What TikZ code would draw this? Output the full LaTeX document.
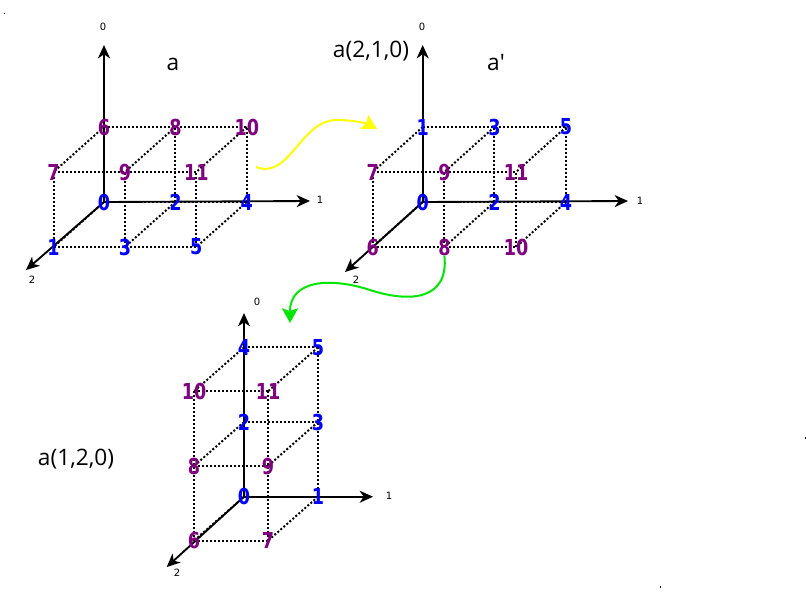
\documentclass[tikz,border=0pt]{standalone}
\usepackage{fontspec}
\setmainfont{Open Sans}
\newfontfamily\numfont{DejaVu Sans}[FakeStretch=0.8]
\newfontfamily\axisfont{DejaVu Sans}
\usetikzlibrary{arrows.meta,calc}
\definecolor{idxblue}{RGB}{0,0,255}
\definecolor{idxpurple}{RGB}{128,0,128}
\definecolor{moveyellow}{RGB}{255,255,0}
\definecolor{movegreen}{RGB}{0,230,0}

\tikzset{
  axis/.style={-{Stealth[length=10pt,width=9pt,inset=3pt]}, line width=1.4pt},
  grid/.style={line width=1.5pt, dash pattern=on 1.5pt off 1.5pt},
  lo/.style={text=idxblue, font=\numfont\bfseries\fontsize{16.5}{16}\selectfont, inner sep=0pt},
  hi/.style={lo, text=idxpurple},
  axlab/.style={font=\axisfont\fontsize{7.5}{8}\selectfont, inner sep=0pt},
  title/.style={font=\fontsize{17}{19}\selectfont, inner sep=0pt},
  move/.style={-{Stealth[length=11pt,width=12pt,inset=2pt]}, line width=1.5pt},
  speck/.style={fill=black}
}

\begin{document}
\begin{tikzpicture}[x=0.75pt, y=-0.75pt]
\useasboundingbox (0,0) rectangle (806,593);

% cube a
\coordinate (A) at (104,202);
\foreach \h in {0,1} \foreach \x in {0,1,2} \foreach \z in {0,1}
  \coordinate (A-\h\x\z) at ($(A)+\x*(71.4,0)+\h*(0,-75)+\z*(-50.5,45)$);
\foreach \h in {0,1} \foreach \z in {0,1} \draw[grid] (A-\h0\z) -- (A-\h2\z);
\foreach \x in {0,1,2} \foreach \z in {0,1} \draw[grid] (A-0\x\z) -- (A-1\x\z);
\foreach \h in {0,1} \foreach \x in {0,1,2} \draw[grid] (A-\h\x0) -- (A-\h\x1);
\coordinate (A0) at (104,45);
\coordinate (A1) at (310,201);
\coordinate (A2) at (26,270);
\draw[axis] (A) -- (A0);
\draw[axis] (A) -- (A1);
\draw[axis] (A) -- (A2);
\node[axlab] (a0) at (103,27) {0};
\node[axlab] (a1) at (320,200) {1};
\node[axlab] (a2) at (32,280) {2};
\foreach \h in {0,1} \foreach \x in {0,1,2} \foreach \z in {0,1} {
  \pgfmathtruncatemacro\n{6*\h+2*\x+\z}
  \ifnum\n<6 \def\st{lo}\else\def\st{hi}\fi
  \node[\st] (A-n\n) at (A-\h\x\z) {\n};
}
\node[title] (ta) at (173,64) {a};

% cube a'
\coordinate (B) at (422.7,202);
\foreach \h in {0,1} \foreach \x in {0,1,2} \foreach \z in {0,1}
  \coordinate (B-\h\x\z) at ($(B)+\x*(71.7,0)+\h*(0,-75)+\z*(-50,45)$);
\foreach \h in {0,1} \foreach \z in {0,1} \draw[grid] (B-\h0\z) -- (B-\h2\z);
\foreach \x in {0,1,2} \foreach \z in {0,1} \draw[grid] (B-0\x\z) -- (B-1\x\z);
\foreach \h in {0,1} \foreach \x in {0,1,2} \draw[grid] (B-\h\x0) -- (B-\h\x1);
\coordinate (B0) at (422.7,45);
\coordinate (B1) at (628,201);
\coordinate (B2) at (345,272);
\draw[axis] (B) -- (B0);
\draw[axis] (B) -- (B1);
\draw[axis] (B) -- (B2);
\node[axlab] (b0) at (422,27) {0};
\node[axlab] (b1) at (640,201) {1};
\node[axlab] (b2) at (356,280) {2};
\foreach \h in {0,1} \foreach \x in {0,1,2} \foreach \z in {0,1} {
  \pgfmathtruncatemacro\n{\h+2*\x+6*\z}
  \ifnum\n<6 \def\st{lo}\else\def\st{hi}\fi
  \node[\st] (B-n\n) at (B-\h\x\z) {\n};
}
\node[title] (tb) at (496,63) {a\textquotesingle};
\node[title] (tb2) at (371,51) {a(2,1,0)};

% cube a(1,2,0)
\coordinate (C) at (244,496.7);
\foreach \h in {0,1,2} \foreach \x in {0,1} \foreach \z in {0,1}
  \coordinate (C-\h\x\z) at ($(C)+\x*(74,0)+\h*(0,-74.7)+\z*(-50,44)$);
\foreach \h in {0,1,2} \foreach \z in {0,1} \draw[grid] (C-\h0\z) -- (C-\h1\z);
\foreach \x in {0,1} \foreach \z in {0,1} \draw[grid] (C-0\x\z) -- (C-2\x\z);
\foreach \h in {0,1,2} \foreach \x in {0,1} \draw[grid] (C-\h\x0) -- (C-\h\x1);
\coordinate (C0) at (244,313);
\coordinate (C1) at (373,496.7);
\coordinate (C2) at (166.7,567);
\draw[axis] (C) -- (C0);
\draw[axis] (C) -- (C1);
\draw[axis] (C) -- (C2);
\node[axlab] (c0) at (257,302) {0};
\node[axlab] (c1) at (389,496) {1};
\node[axlab] (c2) at (177,573) {2};
\foreach \h in {0,1,2} \foreach \x in {0,1} \foreach \z in {0,1} {
  \pgfmathtruncatemacro\n{2*\h+\x+6*\z}
  \ifnum\n<6 \def\st{lo}\else\def\st{hi}\fi
  \node[\st] (C-n\n) at (C-\h\x\z) {\n};
}
\node[title] (tc) at (76,459) {a(1,2,0)};

% moves
\coordinate (y0) at (256,167);
\coordinate (y1) at (377,129);
\draw[move, moveyellow] (y0) .. controls (290,180) and (300,120) .. (337,120)
  .. controls (355,120) and (368,124) .. (y1);
\coordinate (g1) at (290,323);
\draw[move, movegreen] (B-n8.south) .. controls (449,300) and (410,303) .. (370,290)
  .. controls (330,277) and (290,280) .. (g1);

\fill[speck] (3.5,12.5) rectangle (5,14);
\fill[speck] (804.5,437) rectangle (806,438.5);
\fill[speck] (659.5,586) rectangle (661,587.5);
\end{tikzpicture}
\end{document}
